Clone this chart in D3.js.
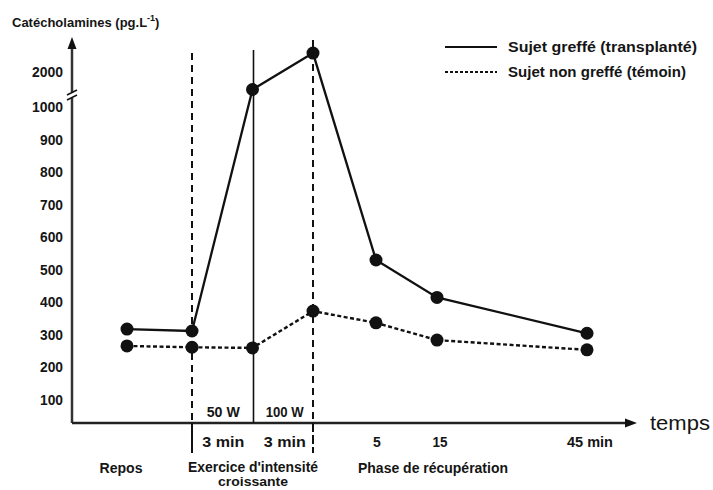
<!DOCTYPE html>
<html><head><meta charset="utf-8">
<script src="https://cdn.jsdelivr.net/npm/d3@7"></script>
<style>
body{margin:0;background:#fff}
text{font-family:"Liberation Sans",Arial,Helvetica,sans-serif;font-weight:bold;fill:#151515}
</style></head><body>
<svg id="c" width="713" height="490"></svg>
<script>
// ---- data ----
const times = [-3, 0, 3, 6, 11, 21, 51];               // pseudo-timeline (min)
const greffe = [318, 312, 1500, 2540, 530, 415, 305];   // solid series
const temoin = [266, 262, 260, 373, 337, 284, 254];     // dotted series
const yTicks = [100,200,300,400,500,600,700,800,900,1000,2000];
const seriesNames = ["Sujet greffé (transplanté)", "Sujet non greffé (témoin)"];

const svg = d3.select("#c");
const x = d3.scaleLinear().domain([-3, 0, 6, 11, 21, 51]).range([127, 192, 313, 376, 437, 587]);
const y = d3.scaleLinear().domain([100, 1000, 2000, 3000]).range([400, 107, 72, 37]);
const X0 = 72, Y0 = 423;
const ink = "#111";

// axes
svg.append("line").attr("x1",X0).attr("x2",X0).attr("y1",Y0).attr("y2",46).attr("stroke","#333").attr("stroke-width",2.5);
svg.append("path").attr("d",`M${X0-4.5},49 L${X0},37 L${X0+4.5},49 Z`).attr("fill",ink);
svg.append("line").attr("x1",X0).attr("x2",628).attr("y1",Y0).attr("y2",Y0).attr("stroke","#222").attr("stroke-width",2.5);
svg.append("path").attr("d",`M625,${Y0-4.5} L637,${Y0} L625,${Y0+4.5} Z`).attr("fill",ink);
// axis break
svg.append("rect").attr("x",X0-3).attr("y",92).attr("width",6).attr("height",6).attr("fill","#fff");
svg.append("path").attr("d",`M${X0-5},95 L${X0+5},90 M${X0-5},100 L${X0+5},95`).attr("stroke",ink).attr("stroke-width",1.5).attr("fill","none");

// y tick labels
svg.selectAll(".yt").data(yTicks).join("text")
  .attr("x",63).attr("y",d=>y(d)+5).attr("text-anchor","end")
  .attr("font-size",14).attr("lengthAdjust","spacingAndGlyphs")
  .attr("textLength",d=>d>=1000?31:23).text(d=>d);

// title
svg.append("text").attr("x",12).attr("y",27).attr("font-size",13)
  .html('Catécholamines (pg.L<tspan dy="-6" font-size="9">-1</tspan><tspan dy="6">)</tspan>');

// vertical reference lines
svg.append("line").attr("x1",x(0)).attr("x2",x(0)).attr("y1",53).attr("y2",Y0).attr("stroke",ink).attr("stroke-width",2).attr("stroke-dasharray","7,5");
svg.append("line").attr("x1",x(0)).attr("x2",x(0)).attr("y1",Y0).attr("y2",453).attr("stroke",ink).attr("stroke-width",2);
svg.append("line").attr("x1",x(3)+1).attr("x2",x(3)+1).attr("y1",50).attr("y2",Y0).attr("stroke",ink).attr("stroke-width",1.6);
svg.append("line").attr("x1",x(6)).attr("x2",x(6)).attr("y1",40).attr("y2",Y0).attr("stroke",ink).attr("stroke-width",2).attr("stroke-dasharray","7,5");
svg.append("line").attr("x1",x(6)).attr("x2",x(6)).attr("y1",Y0).attr("y2",453).attr("stroke",ink).attr("stroke-width",2).attr("stroke-dasharray","9,3");

// series
const line = d3.line().x((d,i)=>x(times[i])).y(d=>y(d));
svg.append("path").datum(greffe).attr("d",line).attr("fill","none").attr("stroke",ink).attr("stroke-width",2.3);
svg.append("path").datum(temoin).attr("d",line).attr("fill","none").attr("stroke",ink).attr("stroke-width",2.4).attr("stroke-dasharray","4,2.5");
[greffe, temoin].forEach(s=>{
  svg.append("g").selectAll("circle").data(s).join("circle")
    .attr("cx",(d,i)=>x(times[i])).attr("cy",d=>y(d)).attr("r",6.5).attr("fill",ink);
});

// x labels
const lab = (t,xx,yy,w,fs=14)=>{
  const e = svg.append("text").attr("x",xx).attr("y",yy).attr("font-size",fs).attr("text-anchor","middle").text(t);
  if (w) e.attr("textLength",w).attr("lengthAdjust","spacingAndGlyphs");
  return e;
};
lab("50 W",(x(0)+x(3))/2+1,417,33);
lab("100 W",(x(3)+x(6))/2+2,417,38);
lab("3 min",(x(0)+x(3))/2+1,447,42);
lab("3 min",(x(3)+x(6))/2+2,447,42);
lab("5",x(11)+1,447);
lab("15",x(21)+3,447,15);
lab("45 min",x(51)+3,447,46);
lab("Repos",121,473,43);
lab("Exercice d'intensité",253,472,130);
lab("croissante",253,486,70,13);
lab("Phase de récupération",433,473,150);
svg.append("text").attr("x",650).attr("y",430).attr("font-size",20).style("font-weight","normal")
  .attr("textLength",60).attr("lengthAdjust","spacingAndGlyphs").text("temps");

// legend
const lg = svg.append("g");
lg.append("line").attr("x1",445).attr("x2",497).attr("y1",47).attr("y2",47).attr("stroke",ink).attr("stroke-width",2.2);
lg.append("line").attr("x1",445).attr("x2",497).attr("y1",72).attr("y2",72).attr("stroke",ink).attr("stroke-width",2.2).attr("stroke-dasharray","3,2");
lg.selectAll("text").data(seriesNames).join("text").attr("x",508).attr("y",(d,i)=>52+i*25)
  .attr("font-size",14).attr("textLength",(d,i)=>i?178:189).attr("lengthAdjust","spacingAndGlyphs").text(d=>d);
</script></body></html>
